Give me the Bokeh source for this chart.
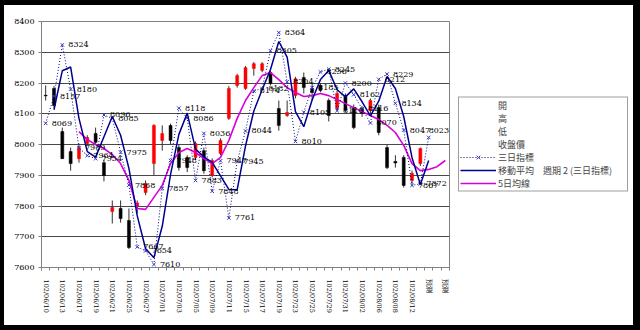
from bokeh.plotting import figure
from bokeh.models import FixedTicker, Legend, LegendItem, Range1d, InlineStyleSheet
from bokeh.core.properties import value
from bokeh.embed import file_html
from bokeh.resources import INLINE

# ---------------- data ----------------
dates = ["102/06/10", "102/06/11", "102/06/13", "102/06/14", "102/06/17", "102/06/18",
         "102/06/19", "102/06/20", "102/06/21", "102/06/24", "102/06/25", "102/06/26",
         "102/06/27", "102/06/28", "102/07/01", "102/07/02", "102/07/03", "102/07/04",
         "102/07/05", "102/07/08", "102/07/09", "102/07/10", "102/07/11", "102/07/12",
         "102/07/15", "102/07/16", "102/07/17", "102/07/18", "102/07/19", "102/07/22",
         "102/07/23", "102/07/24", "102/07/25", "102/07/26", "102/07/29", "102/07/30",
         "102/07/31", "102/08/01", "102/08/02", "102/08/05", "102/08/06", "102/08/07",
         "102/08/08", "102/08/09", "102/08/12", "102/08/13", "預測", "預測", "預測"]

opens = [8160, 8182, 8042, 7977, 7954, 8003, 8036, 7941, 7782, 7792, 7753, 7800,
         7844, 7938, 8013, 8062, 7990, 7958, 7958, 7980, 7900, 7971, 8085, 8192,
         8182, 8247, 8241, 8234, 8117, 8094, 8159, 8218, 8182, 8192, 8143, 8117,
         8159, 8120, 8117, 8111, 8120, 7990, 7945, 7958, 7883, 7938]
highs = [8192, 8190, 8055, 7990, 8003, 8030, 8055, 7950, 7818, 7818, 7792, 7818,
         7883, 8066, 8062, 8068, 8000, 7965, 8010, 7990, 7955, 8020, 8190, 8230,
         8255, 8268, 8268, 8240, 8143, 8143, 8220, 8234, 8198, 8200, 8150, 8175,
         8166, 8130, 8125, 8150, 8130, 8000, 7965, 7965, 7915, 7990]
lows = [8143, 8120, 7954, 7915, 7941, 7997, 8000, 7880, 7743, 7746, 7660, 7776,
        7835, 7900, 7980, 8000, 7915, 7910, 7950, 7905, 7893, 7965, 8080, 8185,
        8178, 8224, 8235, 8192, 8045, 8090, 8150, 8166, 8143, 8170, 8075, 8110,
        8105, 8050, 8090, 8100, 8030, 7920, 7925, 7860, 7870, 7930]
closes = [8158, 8127, 7954, 7938, 7990, 8023, 8007, 7899, 7795, 7759, 7665, 7810,
          7873, 8062, 8036, 8013, 7925, 7925, 8003, 7915, 7948, 8013, 8182, 8224,
          8250, 8263, 8263, 8198, 8062, 8104, 8214, 8185, 8169, 8176, 8094, 8166,
          8111, 8055, 8101, 8143, 8039, 7925, 7940, 7867, 7906, 7987]

# 三日指標 (index 0..46)
ind3 = [8069, 8157, 8324, 8180, 7989, 7964, 7954, 8096, 8085, 7975, 7868, 7667,
        7654, 7610, 7857, 7948, 8118, 8086, 7883, 8036, 7848, 7947, 7761, 7945,
        8044, 8174, 8182, 8305, 8364, 8204, 8010, 8105, 8185, 8236, 8245, 8110,
        8200, 8162, 8116, 8070, 8212, 8229, 8134, 8047, 7867, 7872, 8023]

# 移動平均 週期 2 (三日指標)  (index 1..46)
ma2 = [8113, 8240, 8252, 8085, 7977, 7959, 8025, 8091, 8030, 7922, 7768, 7661,
       7632, 7734, 7903, 8033, 8102, 7985, 7960, 7942, 7898, 7854, 7853, 7995,
       8109, 8178, 8244, 8335, 8284, 8107, 8058, 8145, 8211, 8241, 8178, 8155,
       8181, 8139, 8093, 8141, 8221, 8182, 8091, 7957, 7870, 7948]

# 5日均線 (index 4..48)
ma5 = [8042, 8016, 8000, 7987, 7967, 7938, 7883, 7792, 7789, 7828, 7867, 7938,
       7974, 7987, 7974, 7954, 7938, 7958, 8013, 8085, 8143, 8185, 8224, 8234,
       8211, 8185, 8169, 8156, 8159, 8166, 8159, 8146, 8133, 8120, 8107, 8094,
       8081, 8062, 8039, 7997, 7938, 7915, 7919, 7928, 7948]

y_ticks = [7600, 7700, 7800, 7900, 8000, 8100, 8200, 8300, 8400]

# ---------------- figure ----------------
n = len(dates)
xs_c = list(range(len(opens)))
xs_ind = list(range(len(ind3)))
xs_ma2 = list(range(1, 1 + len(ma2)))
xs_ma5 = list(range(4, 4 + len(ma5)))

frame_css = InlineStyleSheet(css="""
:host::after {
  content: ""; position: absolute; left: 0; top: 0; width: 640px; height: 330px;
  box-sizing: border-box; border-style: solid; border-color: black;
  border-width: 5px 7px 5px 4px; pointer-events: none; z-index: 10;
}
""")

p = figure(frame_width=408, frame_height=246, output_backend="svg",
           toolbar_location=None,
           x_range=Range1d(-0.5, n - 0.5), y_range=Range1d(7600, 8400),
           min_border_left=41, min_border_top=21, min_border_right=191,
           min_border_bottom=63, stylesheets=[frame_css])
p.background_fill_color = "white"
p.border_fill_color = "white"
p.outline_line_color = "#808080"
p.outline_line_width = 1

# axes
p.yaxis.ticker = FixedTicker(ticks=y_ticks)
p.yaxis.major_label_text_font = "DejaVu Serif"
p.yaxis.major_label_text_font_size = "8px"
p.yaxis.major_label_text_color = "black"
p.yaxis.axis_line_color = "#808080"
p.yaxis.major_tick_line_color = "#808080"
p.yaxis.major_tick_out = 3
p.yaxis.major_tick_in = 0
p.yaxis.minor_tick_line_color = None
p.yaxis.major_label_standoff = 4

label_idx = list(range(0, n, 2))
p.xaxis.ticker = FixedTicker(ticks=label_idx,
                             minor_ticks=[i - 0.5 for i in range(n + 1)])
p.xaxis.major_label_overrides = {i: dates[i] for i in label_idx}
p.xaxis.major_label_orientation = "vertical"
p.xaxis.major_label_text_font = "DejaVu Serif"
p.xaxis.major_label_text_font_size = "6.5px"
p.xaxis.major_label_text_color = "black"
p.xaxis.axis_line_color = "#808080"
p.xaxis.major_tick_line_color = None
p.xaxis.minor_tick_line_color = "#808080"
p.xaxis.minor_tick_out = 3
p.xaxis.minor_tick_in = 0
p.xaxis.major_label_standoff = 6

p.xgrid.grid_line_color = None
p.ygrid.grid_line_color = "#484848"
p.ygrid.grid_line_width = 1

# candles
up = [i for i in xs_c if closes[i] >= opens[i]]
dn = [i for i in xs_c if closes[i] < opens[i]]
p.segment(x0=xs_c, y0=lows, x1=xs_c, y1=highs, line_color="#303030", line_width=1)
p.vbar(x=up, width=0.36, top=[closes[i] for i in up], bottom=[opens[i] for i in up],
       fill_color="#FF0000", line_color="#FF0000", line_width=0.5)
p.vbar(x=dn, width=0.36, top=[opens[i] for i in dn], bottom=[closes[i] for i in dn],
       fill_color="black", line_color="black", line_width=0.5)

# lines
r_ma5 = p.line(xs_ma5, ma5, line_color="#D800D8", line_width=1.6)
r_ind_l = p.line(xs_ind, ind3, line_color="#000080", line_width=1, line_dash="1 2")
r_ind_m = p.scatter(xs_ind, ind3, marker="x", size=5, line_color="#3838C8", line_width=1)
r_ma2 = p.line(xs_ma2, ma2, line_color="#000090", line_width=1.5)

# data labels (the last one is lifted above its point so it stays inside the plot)
lab_x = xs_ind[:-1]
lab_y = ind3[:-1]
p.text(x=lab_x, y=lab_y, text=[str(v) for v in lab_y], x_offset=6,
       text_baseline="middle", text_align="left", text_color="black",
       text_font=value("DejaVu Serif"), text_font_size="8px")
p.text(x=xs_ind[-1:], y=ind3[-1:], text=[str(v) for v in ind3[-1:]], x_offset=0,
       y_offset=-4, text_baseline="bottom", text_align="left", text_color="black",
       text_font=value("DejaVu Serif"), text_font_size="8px")

# legend
r_blank = p.line([0, 1], [7500, 7500], line_alpha=0)
cjk = "Noto Sans CJK TC"
items = [LegendItem(label="開", renderers=[r_blank]),
         LegendItem(label="高", renderers=[r_blank]),
         LegendItem(label="低", renderers=[r_blank]),
         LegendItem(label="收盤價", renderers=[r_blank]),
         LegendItem(label="三日指標", renderers=[r_ind_l, r_ind_m]),
         LegendItem(label="移動平均　週期 2 (三日指標)", renderers=[r_ma2]),
         LegendItem(label="5日均線", renderers=[r_ma5])]
leg = Legend(items=items, location="center_left", orientation="vertical",
             label_text_font=cjk, label_text_font_size="9px",
             label_height=13, glyph_height=13, glyph_width=36, spacing=0,
             padding=1, margin=9, label_standoff=2, label_width=128,
             border_line_color="#404040", border_line_width=1,
             background_fill_color="white", background_fill_alpha=1)
p.add_layout(leg, "right")

open("out.html", "w").write(file_html(p, INLINE))
